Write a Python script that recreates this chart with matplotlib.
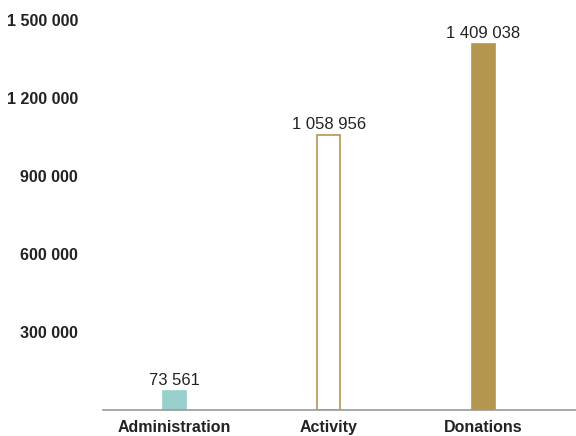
import matplotlib as mpl
from matplotlib import pyplot as plt

categories = ['Administration', 'Activity', 'Donations']
values = [73561, 1058956, 1409038]
yticks = [300000, 600000, 900000, 1200000, 1500000]

GOLD = '#b5964f'
TEAL = '#97cfcc'

mpl.rcParams['font.family'] = ['Liberation Sans', 'DejaVu Sans']


def fmt(v):
    return '{:,}'.format(v).replace(',', ' ')


fig = plt.figure(figsize=(5.76, 4.36), dpi=100)
ax = fig.add_axes([0.179, 0.0596, 0.821, 0.939])

facecolors = [TEAL, 'white', GOLD]
edgecolors = [TEAL, GOLD, GOLD]
x = list(range(len(categories)))
ax.bar(x, values, width=0.15, color=facecolors, edgecolor=edgecolors, linewidth=1.2)

# value labels above bars
for xi, v in zip(x, values):
    ax.annotate(fmt(v), (xi, v), xytext=(0, 2), textcoords='offset points',
                ha='center', va='bottom', fontsize=12, color='#222222')

ax.set_xlim(-0.46, 2.6)
ax.set_ylim(0, 1575000)
ax.set_yticks(yticks)
ax.set_yticklabels([fmt(t) for t in yticks], fontsize=11.5, fontweight='bold', color='#222222')
ax.set_xticks(x)
ax.set_xticklabels(categories, fontsize=11.5, fontweight='bold', color='#222222')

for side in ['top', 'right', 'left']:
    ax.spines[side].set_visible(False)
ax.spines['bottom'].set_color('#999999')
ax.spines['bottom'].set_linewidth(1.2)
ax.tick_params(axis='both', length=0)
ax.tick_params(axis='y', pad=18)
ax.tick_params(axis='x', pad=7)

fig.savefig('out.png', dpi=100)
